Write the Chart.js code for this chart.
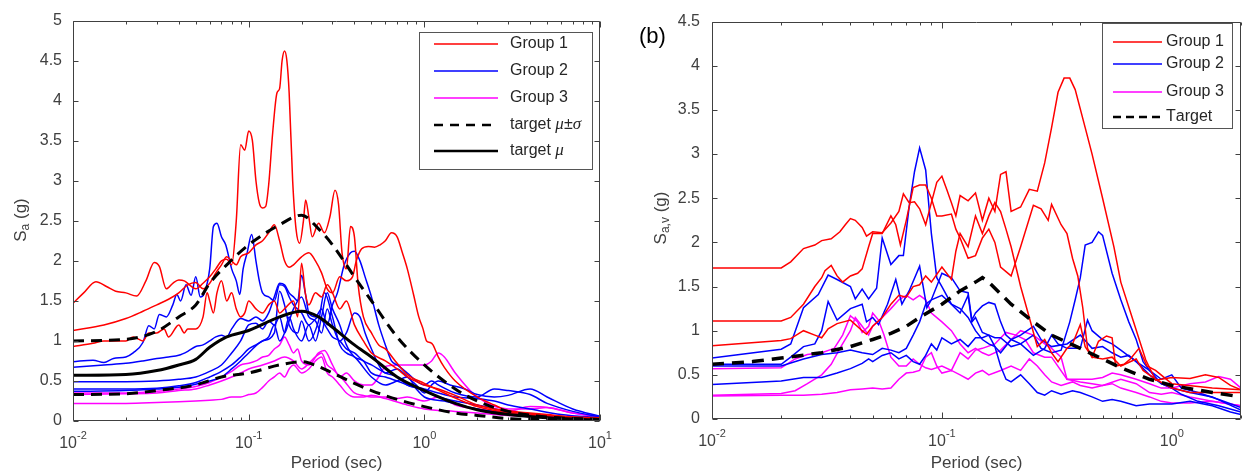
<!DOCTYPE html>
<html>
<head>
<meta charset="utf-8">
<script src="https://cdn.jsdelivr.net/npm/chart.js@4.4.0/dist/chart.umd.min.js"></script>
<style>
html,body{margin:0;padding:0;background:#fff;}
#wrap{position:relative;width:1242px;height:476px;overflow:hidden;background:#fff;}
#left{position:absolute;left:0;top:0;}
#right{position:absolute;left:620px;top:0;}
</style>
</head>
<body>
<div id="wrap">
  <canvas id="left" width="620" height="476"></canvas>
  <canvas id="right" width="622" height="476"></canvas>
</div>
<script>
const FONT = "'Liberation Sans', Arial, Helvetica, sans-serif";
const INK = '#404040';
const RED = '#ff0000', BLUE = '#0000ff', MAG = '#ff00ff', BLACK = '#000000';

// ---- panel (a): [period (s), Sa (g)]
const aRed1 = [[0.01,1.47],[0.0115,1.6],[0.0135,1.74],[0.0155,1.68],[0.0175,1.62],[0.02,1.6],[0.023,1.56],[0.026,1.75],[0.029,1.98],[0.031,1.93],[0.034,1.65],[0.037,1.72],[0.04,1.76],[0.043,1.75],[0.046,1.7],[0.05,1.65],[0.055,1.72],[0.06,1.8],[0.065,1.9],[0.07,2.0],[0.075,2.02],[0.08,1.95],[0.085,2.5],[0.09,3.45],[0.095,3.38],[0.1,3.62],[0.105,3.5],[0.11,3.0],[0.115,2.72],[0.12,2.66],[0.125,2.68],[0.13,2.95],[0.137,3.6],[0.145,4.1],[0.15,4.15],[0.155,4.5],[0.16,4.62],[0.165,4.5],[0.17,4.1],[0.178,3.0],[0.186,2.4],[0.195,2.22],[0.205,2.5],[0.211,2.76],[0.22,2.55],[0.23,2.3],[0.25,2.47],[0.27,2.35],[0.29,2.55],[0.31,2.88],[0.325,2.7],[0.34,2.1],[0.36,1.9],[0.38,2.43],[0.4,2.3],[0.42,1.7],[0.45,1.3],[0.5,1.1],[0.55,0.95],[0.6,0.9],[0.7,0.72],[0.8,0.58],[1.0,0.47],[1.3,0.35],[1.6,0.26],[2,0.18],[3,0.1],[5,0.05],[10,0.02]];
const aRed2 = [[0.01,1.13],[0.015,1.2],[0.02,1.28],[0.025,1.37],[0.03,1.45],[0.035,1.52],[0.04,1.6],[0.045,1.7],[0.05,1.73],[0.055,1.65],[0.06,1.72],[0.065,1.85],[0.07,1.95],[0.075,2.05],[0.08,2.0],[0.085,1.95],[0.09,2.05],[0.1,2.1],[0.11,2.2],[0.12,2.25],[0.13,2.35],[0.14,2.45],[0.15,2.25],[0.16,2.0],[0.17,1.92],[0.18,1.95],[0.2,2.05],[0.22,2.1],[0.24,2.0],[0.26,1.85],[0.28,1.65],[0.3,1.6],[0.33,1.8],[0.36,1.75],[0.39,1.8],[0.41,2.0],[0.44,2.15],[0.48,2.18],[0.52,2.17],[0.56,2.2],[0.6,2.25],[0.65,2.35],[0.7,2.3],[0.75,2.1],[0.8,1.9],[0.87,1.57],[0.93,1.3],[0.98,1.16],[1.03,1.0],[1.08,0.98],[1.12,0.95],[1.2,0.8],[1.3,0.67],[1.5,0.5],[2.0,0.3],[2.5,0.2],[3,0.13],[4,0.1],[5,0.08],[7,0.05],[10,0.04]];
const aRed3 = [[0.01,0.93],[0.013,0.97],[0.015,1.0],[0.02,1.0],[0.022,1.05],[0.025,1.0],[0.027,1.1],[0.03,1.1],[0.033,1.15],[0.035,1.05],[0.04,1.2],[0.043,1.1],[0.045,1.15],[0.05,1.15],[0.055,1.3],[0.058,1.6],[0.06,1.5],[0.063,1.35],[0.066,1.6],[0.07,1.75],[0.075,1.5],[0.08,1.6],[0.085,1.4],[0.09,1.3],[0.095,1.35],[0.1,1.5],[0.11,1.4],[0.12,1.35],[0.13,1.45],[0.14,1.5],[0.15,1.35],[0.16,1.4],[0.18,1.5],[0.19,1.3],[0.2,1.97],[0.21,1.6],[0.22,1.45],[0.24,1.6],[0.26,1.55],[0.28,1.7],[0.3,1.6],[0.33,1.4],[0.36,1.5],[0.4,1.2],[0.45,1.0],[0.5,0.85],[0.6,0.75],[0.7,0.65],[0.8,0.55],[1.0,0.45],[1.2,0.4],[1.5,0.32],[2,0.2],[3,0.12],[5,0.07],[10,0.03]];
const aBlue1 = [[0.01,0.74],[0.013,0.76],[0.015,0.73],[0.017,0.78],[0.02,0.8],[0.022,0.85],[0.025,0.98],[0.027,1.19],[0.029,1.15],[0.031,1.33],[0.034,1.3],[0.037,1.45],[0.039,1.58],[0.041,1.5],[0.044,1.7],[0.047,1.57],[0.05,1.8],[0.053,1.55],[0.056,1.6],[0.06,1.9],[0.063,2.43],[0.066,2.47],[0.07,2.3],[0.074,2.2],[0.08,1.9],[0.085,1.75],[0.089,1.58],[0.093,1.9],[0.098,2.1],[0.104,2.33],[0.11,2.0],[0.115,1.75],[0.12,1.6],[0.13,1.55],[0.14,1.5],[0.15,1.7],[0.16,1.68],[0.17,1.55],[0.18,1.45],[0.2,1.35],[0.22,1.2],[0.25,1.3],[0.28,1.15],[0.3,1.05],[0.33,1.0],[0.36,0.9],[0.4,0.85],[0.45,0.75],[0.5,0.7],[0.6,0.6],[0.7,0.55],[0.8,0.45],[1.0,0.4],[1.2,0.35],[1.5,0.3],[2.0,0.28],[2.5,0.25],[3,0.2],[4,0.15],[6,0.08],[10,0.04]];
const aBlue2 = [[0.01,0.67],[0.015,0.7],[0.02,0.72],[0.025,0.75],[0.03,0.78],[0.035,0.8],[0.04,0.82],[0.045,0.87],[0.05,0.93],[0.055,0.95],[0.06,1.0],[0.065,1.05],[0.07,1.07],[0.075,1.05],[0.08,1.15],[0.09,1.28],[0.1,1.25],[0.11,1.3],[0.12,1.25],[0.13,1.35],[0.14,1.55],[0.15,1.72],[0.16,1.7],[0.17,1.6],[0.18,1.55],[0.19,1.5],[0.2,1.82],[0.21,1.6],[0.22,1.35],[0.24,1.3],[0.26,1.4],[0.28,1.2],[0.3,1.45],[0.32,1.6],[0.35,1.95],[0.38,2.1],[0.4,2.12],[0.43,2.0],[0.46,1.8],[0.5,1.55],[0.55,1.2],[0.6,0.95],[0.65,0.75],[0.7,0.7],[0.8,0.6],[0.9,0.5],[1.0,0.45],[1.1,0.5],[1.2,0.45],[1.5,0.35],[2,0.3],[2.5,0.4],[3,0.38],[4,0.33],[5,0.22],[7,0.12],[10,0.05]];
const aBlue3 = [[0.01,0.49],[0.02,0.49],[0.03,0.5],[0.04,0.52],[0.05,0.55],[0.06,0.62],[0.07,0.7],[0.08,0.85],[0.09,1.0],[0.1,1.2],[0.11,1.22],[0.12,1.15],[0.13,1.25],[0.14,1.2],[0.15,1.3],[0.16,1.1],[0.17,1.25],[0.18,1.4],[0.2,1.55],[0.22,1.3],[0.24,1.25],[0.26,1.1],[0.28,1.4],[0.3,1.2],[0.33,1.0],[0.36,1.1],[0.4,1.35],[0.43,1.3],[0.46,1.1],[0.5,0.9],[0.55,0.7],[0.6,0.6],[0.7,0.65],[0.8,0.55],[0.9,0.45],[1.0,0.35],[1.1,0.45],[1.2,0.5],[1.4,0.45],[1.7,0.4],[2,0.33],[2.5,0.3],[3,0.32],[4,0.4],[5,0.3],[7,0.15],[10,0.06]];
const aBlue4 = [[0.01,0.4],[0.02,0.4],[0.03,0.41],[0.04,0.44],[0.05,0.48],[0.06,0.55],[0.07,0.62],[0.08,0.7],[0.09,0.8],[0.1,0.9],[0.11,0.95],[0.12,1.0],[0.13,1.05],[0.14,1.2],[0.15,1.0],[0.16,1.1],[0.17,1.3],[0.18,1.15],[0.2,1.0],[0.22,1.2],[0.24,1.0],[0.26,1.3],[0.28,1.6],[0.3,1.4],[0.33,1.2],[0.36,0.95],[0.4,0.8],[0.45,0.75],[0.5,0.6],[0.6,0.55],[0.7,0.5],[0.8,0.45],[1.0,0.38],[1.2,0.3],[1.5,0.25],[2,0.2],[3,0.12],[5,0.07],[10,0.03]];
const aBlue5 = [[0.01,0.37],[0.02,0.38],[0.03,0.4],[0.04,0.42],[0.05,0.46],[0.06,0.5],[0.07,0.55],[0.08,0.65],[0.09,0.75],[0.1,0.85],[0.12,1.0],[0.14,1.1],[0.15,1.62],[0.16,1.45],[0.17,1.2],[0.19,1.1],[0.2,1.25],[0.22,1.0],[0.25,1.25],[0.27,1.6],[0.3,1.3],[0.33,0.95],[0.36,0.85],[0.4,0.8],[0.5,0.55],[0.6,0.45],[0.7,0.5],[0.8,0.55],[0.9,0.4],[1.0,0.3],[1.3,0.25],[2,0.15],[3,0.1],[5,0.06],[10,0.03]];
const aMag1 = [[0.01,0.35],[0.02,0.35],[0.03,0.37],[0.04,0.4],[0.05,0.43],[0.06,0.48],[0.07,0.55],[0.08,0.62],[0.09,0.7],[0.1,0.72],[0.11,0.75],[0.12,0.8],[0.13,0.82],[0.14,0.9],[0.15,0.95],[0.16,1.05],[0.17,0.95],[0.18,0.85],[0.19,0.9],[0.2,0.75],[0.22,0.7],[0.25,0.85],[0.27,0.88],[0.3,0.7],[0.33,0.55],[0.36,0.6],[0.4,0.5],[0.45,0.45],[0.5,0.45],[0.55,0.55],[0.6,0.68],[0.7,0.7],[0.8,0.7],[0.9,0.7],[1.0,0.7],[1.1,0.75],[1.2,0.85],[1.3,0.8],[1.5,0.6],[2,0.3],[3,0.15],[4,0.15],[5,0.17],[7,0.1],[10,0.06]];
const aMag2 = [[0.01,0.33],[0.02,0.34],[0.03,0.35],[0.04,0.38],[0.05,0.4],[0.06,0.45],[0.07,0.5],[0.08,0.55],[0.09,0.6],[0.1,0.65],[0.12,0.7],[0.14,0.75],[0.16,0.8],[0.18,0.75],[0.2,0.65],[0.22,0.72],[0.24,0.8],[0.26,0.85],[0.28,0.7],[0.3,0.65],[0.35,0.5],[0.4,0.35],[0.45,0.32],[0.5,0.3],[0.6,0.3],[0.7,0.28],[0.8,0.3],[1.0,0.25],[1.2,0.3],[1.5,0.2],[2,0.15],[3,0.12],[4,0.18],[5,0.17],[7,0.1],[10,0.05]];
const aMag3 = [[0.01,0.22],[0.02,0.22],[0.03,0.23],[0.04,0.24],[0.05,0.25],[0.06,0.26],[0.07,0.27],[0.08,0.3],[0.09,0.3],[0.1,0.33],[0.11,0.35],[0.12,0.42],[0.13,0.5],[0.14,0.55],[0.15,0.6],[0.16,0.55],[0.17,0.65],[0.18,0.7],[0.2,0.6],[0.22,0.65],[0.24,0.75],[0.26,0.8],[0.28,0.6],[0.3,0.55],[0.33,0.45],[0.36,0.35],[0.4,0.3],[0.45,0.3],[0.5,0.32],[0.6,0.28],[0.8,0.2],[1.0,0.15],[1.5,0.12],[2,0.1],[3,0.07],[5,0.05],[10,0.03]];
const aMu = [[0.01,0.57],[0.02,0.58],[0.03,0.63],[0.04,0.7],[0.05,0.77],[0.06,0.92],[0.075,1.05],[0.1,1.13],[0.15,1.3],[0.2,1.37],[0.25,1.3],[0.3,1.17],[0.4,0.95],[0.5,0.8],[0.7,0.55],[1,0.38],[1.5,0.22],[2,0.14],[3,0.08],[5,0.04],[10,0.01]];
const aMuPlus = [[0.01,1.0],[0.02,1.02],[0.03,1.12],[0.04,1.3],[0.05,1.45],[0.06,1.72],[0.075,1.95],[0.1,2.2],[0.15,2.45],[0.2,2.57],[0.25,2.4],[0.3,2.2],[0.4,1.8],[0.5,1.5],[0.7,1.05],[1,0.7],[1.5,0.4],[2,0.25],[3,0.12],[5,0.05],[10,0.02]];
const aMuMinus = [[0.01,0.33],[0.02,0.34],[0.03,0.38],[0.05,0.45],[0.07,0.55],[0.1,0.6],[0.15,0.7],[0.2,0.74],[0.25,0.68],[0.3,0.6],[0.4,0.47],[0.5,0.38],[0.7,0.27],[1,0.18],[1.5,0.1],[2,0.07],[3,0.03],[5,0.015],[10,0.005]];

// ---- panel (b)
const bRed1 = [[0.01,1.71],[0.02,1.71],[0.022,1.78],[0.025,1.93],[0.028,1.97],[0.03,2.02],[0.033,2.04],[0.036,2.12],[0.038,2.2],[0.04,2.27],[0.042,2.25],[0.045,2.17],[0.047,2.07],[0.05,2.12],[0.055,2.11],[0.06,2.22],[0.065,2.35],[0.068,2.55],[0.072,2.45],[0.076,2.46],[0.08,2.38],[0.085,2.2],[0.09,2.45],[0.095,2.68],[0.1,2.75],[0.105,2.6],[0.11,2.45],[0.115,2.3],[0.12,2.53],[0.13,2.47],[0.14,2.56],[0.15,2.25],[0.16,2.5],[0.17,2.35],[0.18,2.77],[0.19,2.8],[0.2,2.35],[0.22,2.4],[0.24,2.6],[0.26,2.58],[0.28,2.9],[0.3,3.3],[0.32,3.7],[0.34,3.86],[0.36,3.86],[0.38,3.73],[0.42,3.3],[0.45,3.0],[0.5,2.5],[0.56,1.95],[0.6,1.55],[0.68,1.11],[0.77,0.67],[0.85,0.44],[1.0,0.47],[1.2,0.46],[1.4,0.5],[1.6,0.47],[1.8,0.38],[2.0,0.33]];
const bRed2 = [[0.01,1.11],[0.02,1.11],[0.022,1.15],[0.025,1.3],[0.028,1.5],[0.03,1.6],[0.031,1.68],[0.033,1.74],[0.035,1.62],[0.037,1.55],[0.04,1.62],[0.043,1.65],[0.045,1.7],[0.048,1.95],[0.05,2.1],[0.055,2.1],[0.06,2.3],[0.063,2.2],[0.066,1.97],[0.07,2.25],[0.075,2.62],[0.08,2.65],[0.085,2.65],[0.09,2.5],[0.095,2.3],[0.1,2.3],[0.11,2.32],[0.115,2.15],[0.12,2.05],[0.13,1.82],[0.14,1.85],[0.15,2.05],[0.16,2.15],[0.17,2.0],[0.18,1.72],[0.2,1.62],[0.22,1.95],[0.25,2.42],[0.27,2.38],[0.29,2.25],[0.3,2.43],[0.33,2.2],[0.35,2.1],[0.37,1.82],[0.39,1.62],[0.41,1.26],[0.43,0.8],[0.45,0.7],[0.48,0.88],[0.52,0.94],[0.55,0.92],[0.57,0.6],[0.62,0.62],[0.66,0.68],[0.72,0.8],[0.78,0.6],[0.85,0.55],[1.0,0.4],[1.5,0.35],[2.0,0.33]];
const bRed3 = [[0.01,0.83],[0.02,0.89],[0.022,0.91],[0.025,1.0],[0.028,0.95],[0.03,0.92],[0.032,1.02],[0.035,1.08],[0.04,1.12],[0.045,1.0],[0.047,0.96],[0.05,1.05],[0.055,1.15],[0.06,1.3],[0.065,1.4],[0.07,1.38],[0.075,1.5],[0.08,1.52],[0.085,1.62],[0.09,1.55],[0.1,1.72],[0.11,1.58],[0.115,1.9],[0.12,2.1],[0.13,1.95],[0.14,2.3],[0.15,2.1],[0.16,2.3],[0.17,2.45],[0.18,2.35],[0.19,2.15],[0.2,1.95],[0.22,1.5],[0.24,1.15],[0.26,0.82],[0.28,0.9],[0.3,0.75],[0.32,0.65],[0.35,0.8],[0.37,0.85],[0.4,1.07],[0.42,0.82],[0.45,0.7],[0.5,0.68],[0.55,0.7],[0.6,0.6],[0.7,0.68],[0.75,0.55],[0.85,0.45],[1.0,0.35],[1.2,0.3],[1.5,0.3],[2.0,0.3]];
const bBlue1 = [[0.01,0.69],[0.02,0.79],[0.022,0.85],[0.025,1.26],[0.029,1.41],[0.032,1.63],[0.035,1.58],[0.04,1.5],[0.042,1.36],[0.045,1.47],[0.048,1.36],[0.052,1.48],[0.055,2.05],[0.06,1.75],[0.065,1.85],[0.068,1.85],[0.072,2.4],[0.076,2.8],[0.08,3.07],[0.085,2.82],[0.09,2.1],[0.095,1.6],[0.1,1.5],[0.11,1.3],[0.12,1.2],[0.13,1.4],[0.135,1.1],[0.14,1.15],[0.15,0.98],[0.16,0.95],[0.17,0.92],[0.18,0.92],[0.2,0.82],[0.22,0.85],[0.25,0.95],[0.27,0.8],[0.3,0.75],[0.33,0.78],[0.36,1.1],[0.38,1.35],[0.4,1.6],[0.42,1.97],[0.45,2.0],[0.48,2.12],[0.5,2.08],[0.55,1.65],[0.6,1.35],[0.65,1.1],[0.7,0.9],[0.75,0.65],[0.8,0.55],[0.9,0.45],[1.0,0.5],[1.1,0.35],[1.3,0.3],[1.6,0.22],[2.0,0.13]];
const bBlue2 = [[0.01,0.62],[0.02,0.62],[0.022,0.7],[0.025,0.82],[0.028,0.85],[0.03,1.0],[0.032,1.33],[0.035,1.12],[0.04,1.25],[0.045,1.3],[0.047,1.1],[0.05,1.15],[0.053,1.07],[0.058,1.3],[0.063,1.58],[0.067,1.3],[0.072,1.45],[0.08,1.73],[0.086,1.26],[0.09,1.35],[0.1,1.65],[0.11,1.6],[0.12,1.45],[0.13,1.43],[0.135,1.12],[0.14,1.2],[0.15,1.28],[0.16,1.32],[0.17,1.3],[0.18,1.1],[0.19,0.95],[0.2,0.9],[0.22,0.85],[0.25,0.72],[0.28,0.8],[0.3,0.95],[0.32,0.85],[0.35,0.8],[0.4,0.8],[0.43,1.12],[0.45,1.0],[0.5,0.9],[0.55,0.85],[0.6,0.78],[0.7,0.65],[0.8,0.55],[0.9,0.4],[1.0,0.35],[1.2,0.3],[1.5,0.25],[2.0,0.1]];
const bBlue3 = [[0.01,0.6],[0.02,0.6],[0.025,0.68],[0.03,0.73],[0.035,0.75],[0.04,0.78],[0.045,0.75],[0.05,0.73],[0.055,0.8],[0.06,0.78],[0.065,0.75],[0.07,0.8],[0.075,0.95],[0.08,1.1],[0.085,1.3],[0.09,1.35],[0.1,1.4],[0.11,1.3],[0.12,1.25],[0.13,1.15],[0.14,1.0],[0.15,0.9],[0.16,0.85],[0.17,0.82],[0.18,0.75],[0.2,0.9],[0.22,0.95],[0.25,1.05],[0.27,0.9],[0.3,0.82],[0.35,0.85],[0.4,0.95],[0.45,0.8],[0.5,0.82],[0.55,0.75],[0.6,0.7],[0.65,0.72],[0.7,0.65],[0.8,0.5],[0.9,0.4],[1.0,0.35],[1.1,0.28],[1.3,0.2],[1.6,0.15],[2.0,0.08]];
const bBlue4 = [[0.01,0.39],[0.02,0.43],[0.025,0.47],[0.03,0.47],[0.035,0.52],[0.04,0.57],[0.045,0.63],[0.048,0.68],[0.05,0.65],[0.055,0.72],[0.06,0.75],[0.065,0.68],[0.07,0.72],[0.075,0.65],[0.08,0.62],[0.085,0.72],[0.09,0.85],[0.095,0.78],[0.1,0.92],[0.11,0.85],[0.12,0.9],[0.13,0.82],[0.14,0.92],[0.15,0.92],[0.16,0.95],[0.17,0.82],[0.18,0.6],[0.19,0.45],[0.2,0.42],[0.22,0.5],[0.24,0.4],[0.26,0.3],[0.28,0.27],[0.3,0.32],[0.33,0.28],[0.37,0.32],[0.4,0.3],[0.45,0.25],[0.5,0.2],[0.55,0.22],[0.6,0.2],[0.7,0.15],[0.8,0.17],[1.0,0.17],[1.2,0.2],[1.5,0.15],[1.8,0.08],[2.0,0.05]];
const bMag1 = [[0.01,0.57],[0.02,0.58],[0.023,0.68],[0.026,0.73],[0.03,0.75],[0.034,0.8],[0.037,0.95],[0.04,1.17],[0.043,1.1],[0.045,0.98],[0.048,1.05],[0.05,1.2],[0.053,1.12],[0.056,0.95],[0.06,0.7],[0.065,0.6],[0.07,0.6],[0.075,0.68],[0.08,0.62],[0.085,0.58],[0.09,0.56],[0.1,0.6],[0.11,0.55],[0.12,0.75],[0.13,0.68],[0.14,0.78],[0.15,0.8],[0.17,0.85],[0.19,0.98],[0.21,0.95],[0.23,0.9],[0.25,0.75],[0.28,0.7],[0.3,0.7],[0.35,0.45],[0.4,0.45],[0.45,0.45],[0.5,0.47],[0.55,0.52],[0.6,0.5],[0.7,0.45],[0.8,0.4],[0.9,0.35],[1.0,0.35],[1.2,0.4],[1.4,0.42],[1.6,0.48],[1.8,0.45],[2.0,0.35]];
const bMag2 = [[0.01,0.27],[0.02,0.29],[0.023,0.32],[0.026,0.4],[0.03,0.5],[0.033,0.62],[0.036,0.8],[0.04,1.0],[0.042,1.15],[0.045,1.05],[0.048,0.95],[0.05,1.05],[0.055,1.15],[0.06,1.25],[0.065,1.35],[0.07,1.4],[0.075,1.35],[0.08,1.4],[0.085,1.35],[0.09,1.2],[0.1,1.1],[0.11,1.0],[0.12,0.85],[0.13,0.75],[0.14,0.8],[0.15,0.75],[0.16,0.72],[0.18,0.78],[0.2,0.9],[0.22,1.0],[0.25,0.95],[0.28,0.85],[0.3,0.8],[0.33,0.7],[0.35,0.45],[0.4,0.42],[0.45,0.4],[0.5,0.38],[0.6,0.45],[0.7,0.4],[0.8,0.3],[0.9,0.28],[1.0,0.3],[1.2,0.25],[1.5,0.2],[2.0,0.15]];
const bMag3 = [[0.01,0.26],[0.02,0.27],[0.025,0.27],[0.03,0.28],[0.035,0.3],[0.04,0.33],[0.045,0.34],[0.05,0.35],[0.055,0.34],[0.06,0.35],[0.065,0.45],[0.07,0.52],[0.075,0.53],[0.08,0.55],[0.085,0.7],[0.09,0.75],[0.095,0.6],[0.1,0.52],[0.11,0.55],[0.12,0.5],[0.13,0.45],[0.14,0.52],[0.15,0.55],[0.16,0.5],[0.18,0.55],[0.2,0.6],[0.22,0.55],[0.24,0.68],[0.26,0.6],[0.28,0.5],[0.3,0.42],[0.33,0.38],[0.37,0.42],[0.4,0.38],[0.45,0.35],[0.5,0.38],[0.55,0.4],[0.6,0.35],[0.7,0.3],[0.8,0.25],[0.9,0.2],[1.0,0.18],[1.2,0.18],[1.5,0.2],[2.0,0.15]];
const bTarget = [[0.01,0.62],[0.015,0.65],[0.02,0.69],[0.03,0.75],[0.04,0.82],[0.05,0.9],[0.06,0.97],[0.07,1.05],[0.08,1.15],[0.1,1.3],[0.12,1.45],[0.14,1.55],[0.15,1.6],[0.16,1.55],[0.2,1.3],[0.25,1.1],[0.3,0.95],[0.4,0.8],[0.5,0.68],[0.6,0.58],[0.8,0.45],[1.0,0.38],[1.5,0.3],[2.0,0.25]];

// axis labels
const xDecades = [0.01, 0.1, 1, 10];
const xExponents = ['-2', '-1', '0', '1'];
const aLegend = ['Group 1', 'Group 2', 'Group 3', 'target μ±σ', 'target μ'];
const bLegend = ['Group 1', 'Group 2', 'Group 3', 'Target'];

function line(data, color, w, dash, order, smooth) {
  return {
    data: data.map(p => ({x: p[0], y: p[1]})),
    borderColor: color, borderWidth: w, borderDash: dash || [],
    pointRadius: 0, fill: false, order: order,
    cubicInterpolationMode: smooth ? 'monotone' : 'default', tension: 0
  };
}

// draw text runs, greek letters in italic serif
function drawRich(ctx, txt, x, y, size) {
  let cx = x;
  for (const ch of txt) {
    const greek = ch === 'μ' || ch === 'σ';
    ctx.font = greek ? `italic ${size + 1}px 'Liberation Serif', serif` : `${size}px ${FONT}`;
    ctx.fillText(ch, cx, y);
    cx += ctx.measureText(ch).width;
  }
}

const framePlugin = {
  id: 'frame',
  afterDatasetsDraw(chart, args, o) {
    const {ctx, chartArea: a, scales: {x, y}} = chart;
    const L = Math.round(a.left) + 0.5, R = Math.round(a.right) - 0.5;
    const T = Math.round(a.top) + 0.5, B = Math.round(a.bottom) - 0.5;
    ctx.save();
    ctx.strokeStyle = INK; ctx.lineWidth = 1; ctx.setLineDash([]);
    ctx.beginPath();
    ctx.moveTo(L, T); ctx.lineTo(R, T); ctx.lineTo(R, B); ctx.lineTo(L, B); ctx.closePath();
    // y ticks
    y.ticks.forEach(t => {
      const py = Math.round(y.getPixelForValue(t.value)) + 0.5;
      ctx.moveTo(L, py); ctx.lineTo(L + 5, py);
      ctx.moveTo(R, py); ctx.lineTo(R - 5, py);
    });
    // x ticks, major and minor
    for (let d = x.min; d < x.max * 1.001; d *= 10) {
      for (let m = 1; m < 10; m++) {
        const v = d * m;
        if (v > x.max * 1.001) break;
        const px = Math.round(x.getPixelForValue(v)) + 0.5;
        const len = m === 1 ? 6 : 3;
        ctx.moveTo(px, B); ctx.lineTo(px, B - len);
        ctx.moveTo(px, T); ctx.lineTo(px, T + len);
      }
    }
    ctx.stroke();

    // x tick labels 10^n
    ctx.fillStyle = INK; ctx.textBaseline = 'middle'; ctx.textAlign = 'left';
    xDecades.forEach((v, i) => {
      if (v > x.max * 1.001) return;
      const px = x.getPixelForValue(v);
      ctx.font = `16px ${FONT}`;
      const w1 = ctx.measureText('10').width;
      ctx.font = `11px ${FONT}`;
      const w2 = ctx.measureText(xExponents[i]).width;
      const sx = px - (w1 + w2) / 2;
      ctx.font = `16px ${FONT}`;
      ctx.fillText('10', sx, a.bottom + 23);
      ctx.font = `11px ${FONT}`;
      ctx.fillText(xExponents[i], sx + w1, a.bottom + 15);
    });

    // y title with subscript
    ctx.save();
    ctx.translate(o.yTitleX, o.yTitleY);
    ctx.rotate(-Math.PI / 2);
    ctx.font = `17px ${FONT}`;
    const wS = ctx.measureText('S').width;
    ctx.font = `12px ${FONT}`;
    const wSub = ctx.measureText(o.ySub).width;
    ctx.font = `17px ${FONT}`;
    const wG = ctx.measureText(' (g)').width;
    let sx = -(wS + wSub + wG) / 2;
    ctx.fillText('S', sx, 0);
    ctx.font = `12px ${FONT}`;
    ctx.fillText(o.ySub, sx + wS, 5);
    ctx.font = `17px ${FONT}`;
    ctx.fillText(' (g)', sx + wS + wSub, 0);
    ctx.restore();

    // panel tag
    if (o.tag) {
      ctx.font = `22px ${FONT}`;
      ctx.fillStyle = '#000';
      ctx.fillText(o.tag, o.tagX, o.tagY);
    }

    // legend box
    const lg = o.legend;
    ctx.fillStyle = '#fff';
    ctx.fillRect(lg.x, lg.y, lg.w, lg.h);
    ctx.strokeStyle = '#555'; ctx.lineWidth = 1;
    ctx.strokeRect(lg.x + 0.5, lg.y + 0.5, lg.w, lg.h);
    lg.items.forEach((it, i) => {
      const yy = lg.rows[i];
      ctx.strokeStyle = it.color; ctx.lineWidth = it.width;
      ctx.setLineDash(it.dash || []);
      ctx.beginPath(); ctx.moveTo(lg.sx0, yy); ctx.lineTo(lg.sx1, yy); ctx.stroke();
      ctx.setLineDash([]);
      ctx.fillStyle = '#262626'; ctx.textBaseline = 'middle';
      drawRich(ctx, it.label, lg.tx, yy, 16);
    });
    ctx.restore();
  }
};

function panel(id, sets, p) {
  return new Chart(document.getElementById(id), {
    type: 'line',
    data: {datasets: sets},
    options: {
      responsive: false, animation: false, events: [],
      layout: {padding: {left: 0, right: p.padRight, top: p.padTop, bottom: 0}},
      plugins: {legend: {display: false}, tooltip: {enabled: false}, frame: p},
      scales: {
        x: {
          type: 'logarithmic', min: p.xMin, max: p.xMax,
          grid: {display: false, drawTicks: false, tickLength: 0}, border: {display: false},
          ticks: {display: false},
          afterFit: s => { s.height = p.xAxisH; },
          title: {display: true, text: 'Period (sec)', color: INK, font: {family: FONT, size: 17}, padding: {top: 0, bottom: 2}}
        },
        y: {
          min: 0, max: p.yMax,
          grid: {display: false, drawTicks: false, tickLength: 0}, border: {display: false},
          ticks: {stepSize: 0.5, color: INK, font: {family: FONT, size: 16}, padding: p.yPad, callback: v => String(v)},
          afterFit: s => { s.width = p.yAxisW; }
        }
      }
    },
    plugins: [framePlugin]
  });
}

// panel (a)
panel('left', [
  line(aMu, BLACK, 3, [], 0, true),
  line(aMuPlus, BLACK, 3, [11, 7], 0, true),
  line(aMuMinus, BLACK, 3, [11, 7], 0, true),
  line(aRed1, RED, 1.5, [], 1, true),
  line(aRed2, RED, 1.5, [], 1, true),
  line(aRed3, RED, 1.5, [], 1, true),
  line(aBlue1, BLUE, 1.5, [], 1, true),
  line(aBlue2, BLUE, 1.5, [], 1, true),
  line(aBlue3, BLUE, 1.5, [], 1, true),
  line(aBlue4, BLUE, 1.5, [], 1, true),
  line(aBlue5, BLUE, 1.5, [], 1, true),
  line(aMag1, MAG, 1.5, [], 1, true),
  line(aMag2, MAG, 1.5, [], 1, true),
  line(aMag3, MAG, 1.5, [], 1, true)
], {
  xMin: 0.01, xMax: 10, yMax: 5, padRight: 20, padTop: 15, xAxisH: 55, yAxisW: 73, yPad: 11,
  yTitleX: 21, yTitleY: 220, ySub: 'a',
  legend: {
    x: 419, y: 32, w: 173, h: 137, sx0: 434, sx1: 498, tx: 510,
    rows: [44, 71, 98, 125, 151],
    items: [
      {label: aLegend[0], color: RED, width: 1.5},
      {label: aLegend[1], color: BLUE, width: 1.5},
      {label: aLegend[2], color: MAG, width: 1.5},
      {label: aLegend[3], color: BLACK, width: 2.5, dash: [9, 7]},
      {label: aLegend[4], color: BLACK, width: 2.5}
    ]
  }
});

// panel (b)
panel('right', [
  line(bTarget, BLACK, 3.5, [12, 8], 0, false),
  line(bRed1, RED, 1.5, [], 1, false),
  line(bRed2, RED, 1.5, [], 1, false),
  line(bRed3, RED, 1.5, [], 1, false),
  line(bBlue1, BLUE, 1.5, [], 1, false),
  line(bBlue2, BLUE, 1.5, [], 1, false),
  line(bBlue3, BLUE, 1.5, [], 1, false),
  line(bBlue4, BLUE, 1.5, [], 1, false),
  line(bMag1, MAG, 1.5, [], 1, false),
  line(bMag2, MAG, 1.5, [], 1, false),
  line(bMag3, MAG, 1.5, [], 1, false)
], {
  xMin: 0.01, xMax: 2, yMax: 4.5, padRight: 1, padTop: 18, xAxisH: 57, yAxisW: 92, yPad: 12,
  yTitleX: 41, yTitleY: 218, ySub: 'a,v',
  tag: '(b)', tagX: 19, tagY: 37,
  legend: {
    x: 482, y: 23, w: 130, h: 105, sx0: 493, sx1: 542, tx: 546,
    rows: [42, 64, 92, 117],
    items: [
      {label: bLegend[0], color: RED, width: 1.5},
      {label: bLegend[1], color: BLUE, width: 1.5},
      {label: bLegend[2], color: MAG, width: 1.5},
      {label: bLegend[3], color: BLACK, width: 2.5, dash: [8, 5]}
    ]
  }
});
</script>
</body>
</html>
